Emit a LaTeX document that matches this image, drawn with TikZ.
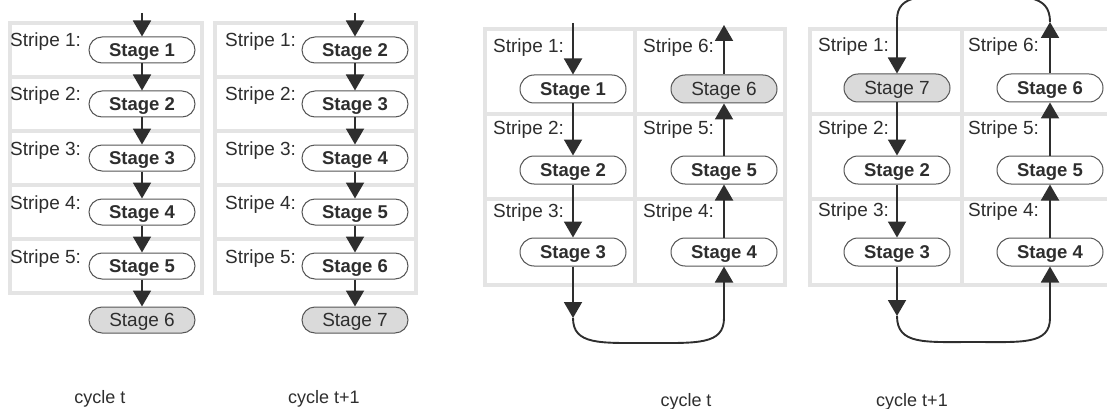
\documentclass[tikz,border=0pt]{standalone}
\usepackage{fontspec}
\setmainfont{Liberation Sans}
\usetikzlibrary{arrows.meta}
\definecolor{ink}{HTML}{2E2E2E}
\definecolor{frame}{HTML}{E4E4E4}
\definecolor{boxline}{HTML}{555555}
\definecolor{shade}{HTML}{DADADA}

\begin{document}
\begin{tikzpicture}[x=1pt,y=-1pt,
  stagebox/.style={draw=boxline, line width=1pt, rounded corners=13pt,
    minimum width=106pt, minimum height=26pt, inner sep=0pt,
    text height=13pt, text depth=0pt, text=ink,
    font=\fontsize{18.5}{20}\selectfont\bfseries},
  tallbox/.style={stagebox, minimum height=28pt, rounded corners=14pt},
  newbox/.style={fill=shade, font=\fontsize{19}{20}\selectfont},
  stripelabel/.style={anchor=base west, inner sep=0pt, text=ink,
    font=\fontsize{19}{22}\selectfont},
  cyclelabel/.style={anchor=base, inner sep=0pt, text=ink,
    font=\fontsize{18}{20}\selectfont},
  flow/.style={draw=ink, line width=1.9pt, -{Triangle[width=18pt,length=16pt]}},
  wire/.style={draw=ink, line width=1.9pt},
  rowframe/.style={draw=frame, line width=4pt, fill=white}
]
\useasboundingbox (0,0) rectangle (1107,409);
\clip (0,0) rectangle (1107,409);

% ---------- linear pipeline, cycle t ----------
\foreach \r in {0,...,4}
  \draw[rowframe] (10,{23+54*\r}) rectangle (202,{77+54*\r});
\foreach \i/\y in {1/50,2/104,3/158,4/212,5/266}
  \node[stripelabel] (la\i) at (10,{\y-3}) {Stripe \i:};
\node[stagebox] (a1) at (142,50)  {Stage 1};
\node[stagebox] (a2) at (142,104) {Stage 2};
\node[stagebox] (a3) at (142,158) {Stage 3};
\node[stagebox] (a4) at (142,212) {Stage 4};
\node[stagebox] (a5) at (142,266) {Stage 5};
\node[stagebox,newbox] (a6) at (142,320) {Stage 6};
\coordinate (a0) at (142,13);
\draw[flow] (a0) -- (a1.north);
\draw[flow] (a1.south) -- (a2.north);
\draw[flow] (a2.south) -- (a3.north);
\draw[flow] (a3.south) -- (a4.north);
\draw[flow] (a4.south) -- (a5.north);
\draw[flow] (a5.south) -- (a6.north);
\node[cyclelabel] (ta) at (100,403) {cycle t};

% ---------- linear pipeline, cycle t+1 ----------
\foreach \r in {0,...,4}
  \draw[rowframe] (215,{23+54*\r}) rectangle (416,{77+54*\r});
\foreach \i/\y in {1/50,2/104,3/158,4/212,5/266}
  \node[stripelabel] (lb\i) at (225,{\y-3}) {Stripe \i:};
\node[stagebox] (b2) at (355,50)  {Stage 2};
\node[stagebox] (b3) at (355,104) {Stage 3};
\node[stagebox] (b4) at (355,158) {Stage 4};
\node[stagebox] (b5) at (355,212) {Stage 5};
\node[stagebox] (b6) at (355,266) {Stage 6};
\node[stagebox,newbox] (b7) at (355,320) {Stage 7};
\coordinate (b0) at (355,13);
\draw[flow] (b0) -- (b2.north);
\draw[flow] (b2.south) -- (b3.north);
\draw[flow] (b3.south) -- (b4.north);
\draw[flow] (b4.south) -- (b5.north);
\draw[flow] (b5.south) -- (b6.north);
\draw[flow] (b6.south) -- (b7.north);
\node[cyclelabel] (tb) at (324,403) {cycle t+1};

% ---------- folded pipeline, cycle t ----------
\foreach \y/\z in {29/114,114/199,199/285} {
  \draw[rowframe] (485,\y) rectangle (635,\z);
  \draw[rowframe] (635,\y) rectangle (785,\z);
}
\node[stripelabel] at (493,53)  {Stripe 1:};
\node[stripelabel] at (493,135) {Stripe 2:};
\node[stripelabel] at (493,217) {Stripe 3:};
\node[stripelabel] at (643,53)  {Stripe 6:};
\node[stripelabel] at (643,135) {Stripe 5:};
\node[stripelabel] at (643,217) {Stripe 4:};
\node[tallbox] (c1) at (573,89)  {Stage 1};
\node[tallbox] (c2) at (573,170) {Stage 2};
\node[tallbox] (c3) at (573,252) {Stage 3};
\node[tallbox,newbox] (c6) at (724,89) {Stage 6};
\node[tallbox] (c5) at (724,170) {Stage 5};
\node[tallbox] (c4) at (724,252) {Stage 4};
\coordinate (cin)  at (573,23);
\coordinate (cout) at (724,25);
\coordinate (ca)   at (573,318);
\coordinate (cb)   at (724,318);
\draw[flow] (cin) -- (c1.north);
\draw[flow] (c1.south) -- (c2.north);
\draw[flow] (c2.south) -- (c3.north);
\draw[flow] (c3.south) -- (ca);
\draw[wire] (ca) .. controls (573,345) and (600,343) .. (648,343)
                 .. controls (697,343) and (724,345) .. (cb);
\draw[flow] (cb) -- (c4.south);
\draw[flow] (c4.north) -- (c5.south);
\draw[flow] (c5.north) -- (c6.south);
\draw[flow] (c6.north) -- (cout);
\node[cyclelabel] (tc) at (686,406) {cycle t};

% ---------- folded pipeline, cycle t+1 ----------
\foreach \y/\z in {29/114,114/199,199/285} {
  \draw[rowframe] (810,\y) rectangle (962,\z);
  \draw[rowframe] (962,\y) rectangle (1114,\z);
}
\node[stripelabel] at (818,52)  {Stripe 1:};
\node[stripelabel] at (818,134) {Stripe 2:};
\node[stripelabel] at (818,216) {Stripe 3:};
\node[stripelabel] at (968,52)  {Stripe 6:};
\node[stripelabel] at (968,134) {Stripe 5:};
\node[stripelabel] at (968,216) {Stripe 4:};
\node[tallbox,newbox] (d7) at (897,88) {Stage 7};
\node[tallbox] (d2) at (897,170)  {Stage 2};
\node[tallbox] (d3) at (897,252)  {Stage 3};
\node[tallbox] (d6) at (1050,88)  {Stage 6};
\node[tallbox] (d5) at (1050,170) {Stage 5};
\node[tallbox] (d4) at (1050,252) {Stage 4};
\coordinate (dtl) at (897,20);
\coordinate (dtr) at (1050,22);
\coordinate (da)  at (897,316);
\coordinate (db)  at (1050,318);
\draw[flow] (d6.north) -- (dtr);
\draw[wire] (dtr) .. controls (1050,-7) and (1023,-4) .. (973,-4)
                  .. controls (924,-4) and (897,-7) .. (dtl);
\draw[flow] (dtl) -- (d7.north);
\draw[flow] (d7.south) -- (d2.north);
\draw[flow] (d2.south) -- (d3.north);
\draw[flow] (d3.south) -- (da);
\draw[wire] (da) .. controls (897,345) and (925,342) .. (973,342)
                 .. controls (1022,342) and (1050,345) .. (db);
\draw[flow] (db) -- (d4.south);
\draw[flow] (d4.north) -- (d5.south);
\draw[flow] (d5.north) -- (d6.south);
\node[cyclelabel] (td) at (912,406) {cycle t+1};
\end{tikzpicture}
\end{document}
